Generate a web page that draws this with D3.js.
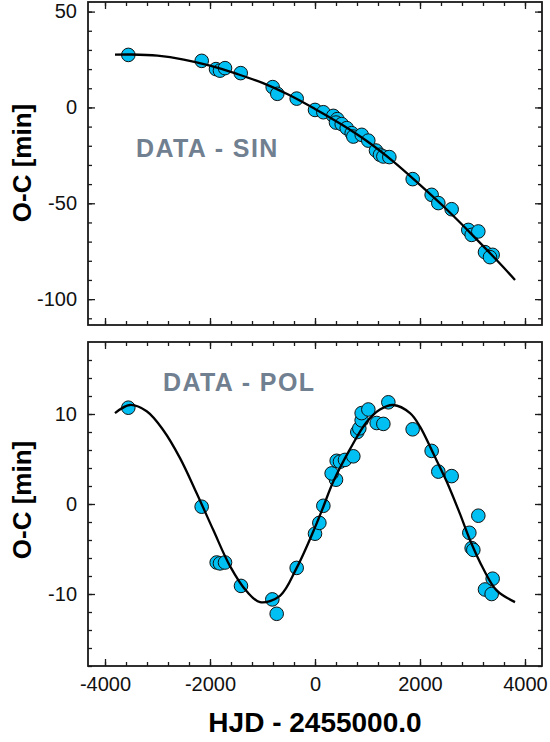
<html>
<head>
	<meta charset="utf-8">
	<style>
		body { margin: 0; background: #fff; }
		svg { display: block; font-family: "Liberation Sans", Arial, sans-serif; }
		.frame { fill: none; stroke: #1a1a1a; stroke-width: 1.8; }
		.tick line { stroke: #1a1a1a; stroke-width: 1.3; }
		.tick text { font-size: 20px; fill: #111; }
		.fit { fill: none; stroke: #000; stroke-width: 2.3; }
		.pt { fill: #00bff2; stroke: #111; stroke-width: 1; }
		.tag { font-size: 25px; font-weight: bold; fill: #708090; letter-spacing: 1.4px; }
		.title { font-weight: bold; fill: #000; }
	</style>
</head>
<body>
	<script src="https://cdn.jsdelivr.net/npm/d3@7"></script>
	<script>
	// O-C data, upper panel (sinusoid model)
	var sinT  = [-3556, -2158, -1886, -1810, -1714, -1415, -806, -718, -349, 0, 159, 349, 425, 400, 509, 604, 699, 730, 890, 1015, 1162, 1238, 1302, 1416, 1861, 2222, 2349, 2603, 2920, 2984, 3111, 3238, 3384, 3333];
	var sinOC = [27.4, 24.3, 20.0, 19.2, 20.5, 17.9, 10.6, 7.1, 4.6, -1.3, -2.5, -4.4, -6.1, -7.9, -8.7, -10.8, -13.4, -15.2, -14.3, -17.3, -22.5, -24.7, -25.6, -25.9, -37.4, -45.6, -49.9, -53.1, -63.9, -66.5, -64.7, -75.5, -76.9, -78.1];

	// fitted curve, upper panel
	var sinFitT  = [-3810, -3500, -3000, -2500, -2000, -1500, -1000, -500, 0, 500, 1000, 1500, 2000, 2500, 3000, 3500, 3810];
	var sinFitOC = [27.5, 27.6, 27.0, 25.0, 21.8, 17.6, 12.8, 6.6, -0.8, -8.8, -17.8, -28.4, -40.4, -53.0, -66.6, -80.8, -90.0];

	// O-C data, lower panel (polynomial removed)
	var polT  = [-3556, -2159, -1873, -1810, -1714, -1410, -813, -730, -349, 0, 83, 159, 400, 317, 413, 476, 571, 730, 806, 844, 889, 889, 1016, 1175, 1302, 1397, 1860, 2222, 2349, 2603, 3111, 2940, 2984, 3016, 3238, 3384, 3365];
	var polOC = [10.7, -0.3, -6.5, -6.6, -6.5, -9.1, -10.6, -12.2, -7.1, -3.3, -2.1, -0.2, 2.7, 3.4, 4.8, 4.7, 4.9, 5.3, 8.0, 8.4, 9.3, 10.1, 10.5, 9.0, 8.9, 11.3, 8.3, 5.9, 3.6, 3.1, -1.3, -3.2, -4.9, -5.1, -9.5, -8.3, -10.0];

	var polFitT  = [-3810, -3524, -3206, -2889, -2571, -2254, -1937, -1619, -1302, -1048, -667, -349, 0, 159, 349, 667, 984, 1238, 1492, 1810, 2000, 2254, 2508, 2762, 2952, 3206, 3460, 3810];
	var polFitOC = [10.1, 11.0, 10.3, 8.2, 5.1, 1.2, -2.9, -6.9, -9.7, -10.9, -10.2, -7.1, -2.6, -0.3, 2.5, 6.1, 9.1, 10.5, 11.0, 10.1, 8.6, 5.6, 2.5, -1.1, -4.0, -7.2, -9.6, -10.9];

	var xTicks = [-4000, -2000, 0, 2000, 4000];
	var sinTicks = [50, 0, -50, -100];
	var polTicks = [10, 0, -10];

	var W = 550, H = 742;
	var svg = d3.select("body").append("svg")
		.attr("width", W)
		.attr("height", H);

	var x = d3.scaleLinear().domain([-4324, 4324]).range([88, 542]);
	// plain hyphen for negatives, like the original
	var fmt = function(d) { return String(d); };

	function panel(top, bottom, yDomain, major, minorStep, tT, tV, fT, fV, tag, tagX, tagY, showX) {
		var y = d3.scaleLinear().domain(yDomain).range([bottom, top]);
		var g = svg.append("g");
		var minorY = d3.range(Math.ceil(yDomain[0] / minorStep) * minorStep, yDomain[1], minorStep);
		var minorX = d3.range(-4000, 4324, 400);

		// ticks inside on all four sides
		g.append("g").attr("transform", "translate(88,0)")
			.call(d3.axisLeft(y).tickValues(minorY).tickSize(-4).tickFormat(""));
		g.append("g").attr("transform", "translate(88,0)")
			.call(d3.axisLeft(y).tickValues(major).tickSize(-7).tickPadding(11).tickFormat(fmt));
		g.append("g").attr("transform", "translate(542,0)")
			.call(d3.axisRight(y).tickValues(minorY).tickSize(-4).tickFormat(""));
		g.append("g").attr("transform", "translate(542,0)")
			.call(d3.axisRight(y).tickValues(major).tickSize(-7).tickFormat(""));
		g.append("g").attr("transform", "translate(0," + top + ")")
			.call(d3.axisTop(x).tickValues(minorX).tickSize(-4).tickFormat(""));
		g.append("g").attr("transform", "translate(0," + top + ")")
			.call(d3.axisTop(x).tickValues(xTicks).tickSize(-7).tickFormat(""));
		g.append("g").attr("transform", "translate(0," + bottom + ")")
			.call(d3.axisBottom(x).tickValues(minorX).tickSize(-4).tickFormat(""));
		g.append("g").attr("transform", "translate(0," + bottom + ")")
			.call(d3.axisBottom(x).tickValues(xTicks).tickSize(-7).tickPadding(11)
				.tickFormat(showX ? fmt : ""));
		g.selectAll(".domain").remove();
		g.selectAll(".tick text").attr("font-family", null).attr("font-size", null);

		g.append("rect").attr("class", "frame")
			.attr("x", 88).attr("y", top)
			.attr("width", 542 - 88).attr("height", bottom - top);

		g.append("text").attr("class", "tag")
			.attr("x", tagX).attr("y", tagY)
			.text(tag);

		var pts = tT.map(function(d, i) { return {t: d, v: tV[i]}; });
		g.selectAll("circle").data(pts).enter()
			.append("circle")
			.attr("class", "pt")
			.attr("cx", function(d) { return x(d.t); })
			.attr("cy", function(d) { return y(d.v); })
			.attr("r", 6.8);

		var fit = fT.map(function(d, i) { return [d, fV[i]]; });
		var line = d3.line()
			.x(function(d) { return x(d[0]); })
			.y(function(d) { return y(d[1]); })
			.curve(d3.curveCatmullRom);
		g.append("path").attr("class", "fit").attr("d", line(fit));
	}

	panel(2, 325, [-113.5, 55], sinTicks, 10, sinT, sinOC, sinFitT, sinFitOC, "DATA - SIN", 136, 157, false);
	panel(342, 666, [-18, 18], polTicks, 2, polT, polOC, polFitT, polFitOC, "DATA - POL", 163, 391, true);

	// axis titles
	svg.append("text").attr("class", "title")
		.attr("transform", "translate(31,163) rotate(-90)")
		.attr("text-anchor", "middle")
		.attr("font-size", 26)
		.text("O-C [min]");
	svg.append("text").attr("class", "title")
		.attr("transform", "translate(31,500) rotate(-90)")
		.attr("text-anchor", "middle")
		.attr("font-size", 26)
		.text("O-C [min]");
	svg.append("text").attr("class", "title")
		.attr("x", 315).attr("y", 732)
		.attr("text-anchor", "middle")
		.attr("font-size", 28)
		.text("HJD - 2455000.0");
	</script>
</body>
</html>
